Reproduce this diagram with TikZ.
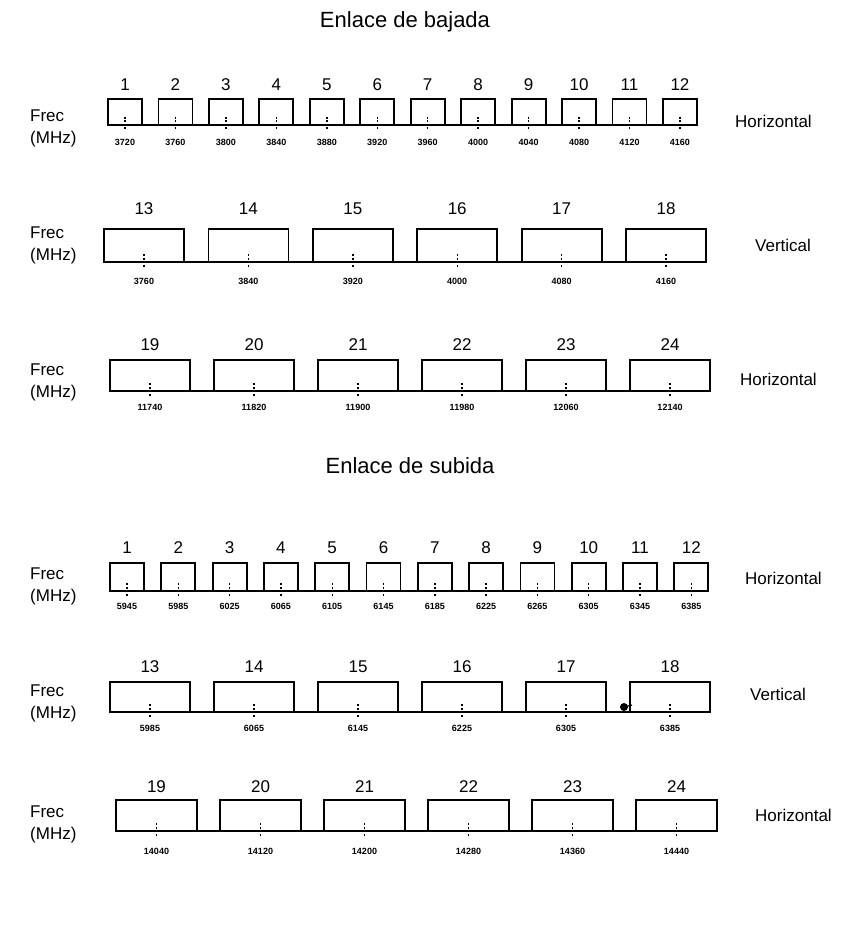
\documentclass[tikz,border=0pt]{standalone}
\usepackage{fontspec}
\setmainfont{Liberation Sans}
\usetikzlibrary{calc}
\tikzset{
  chbox/.style={draw, line width=1.8pt, inner sep=0pt, outer sep=0pt},
  baseln/.style={line width=1.8pt},
  tickln/.style={line width=1.4pt, dash pattern=on 2pt off 1.5pt},
  numlbl/.style={inner sep=0pt, font=\fontsize{17}{17}\selectfont},
  frqlbl/.style={inner sep=0pt, font=\bfseries\fontsize{9}{9}\selectfont},
  sidelbl/.style={inner sep=0pt, anchor=west, font=\fontsize{17}{17}\selectfont},
  titlelbl/.style={inner sep=0pt, font=\fontsize{22}{22}\selectfont},
  freclbl/.style={inner sep=0pt, anchor=west, align=left, font=\fontsize{17}{22}\selectfont}
}
% row parameters: first centre x, pitch, box width, number y, top y, bottom y, label y
\newcommand\RowSet[7]{\def\rX{#1}\def\rP{#2}\def\rW{#3}\def\rN{#4}\def\rT{#5}\def\rB{#6}\def\rL{#7}}
\newcommand\DrawRow[3]{%
  \foreach \nm/\fq [count=\i] in {#2} {
    \pgfmathsetmacro\cx{\rX+(\i-1)*\rP}
    \pgfmathsetmacro\cy{(\rT+\rB)/2}
    \pgfmathsetmacro\bh{\rB-\rT}
    \node[chbox, minimum width=\rW pt, minimum height=\bh pt] (#1\i) at (\cx,\cy) {};
    \node[numlbl] (#1n\i) at (\cx,\rN) {\nm};
    \node[frqlbl] (#1f\i) at (\cx,\rL) {\fq};
    \draw[tickln] (#1\i.south) ++(0,-8) -- ++(0,14);
  }
  \draw[baseln] (#11.south west) -- (#1#3.south east);
}
\begin{document}
\begin{tikzpicture}[x=1pt,y=-1pt]
\useasboundingbox (0,0) rectangle (841,931);

\node[titlelbl] (t1) at (405,22) {Enlace de bajada};

% Row A
\RowSet{125}{50.45}{34}{85}{99}{125}{142}
\DrawRow{A}{1/3720,2/3760,3/3800,4/3840,5/3880,6/3920,7/3960,8/4000,9/4040,10/4080,11/4120,12/4160}{12}
\node[freclbl] (fa) at (30,128) {Frec\\(MHz)};
\node[sidelbl] (sa) at (735,121) {Horizontal};

% Row B
\RowSet{144}{104.4}{80}{209}{229}{262}{281}
\DrawRow{B}{13/3760,14/3840,15/3920,16/4000,17/4080,18/4160}{6}
\node[freclbl] (fb) at (30,245) {Frec\\(MHz)};
\node[sidelbl] (sb) at (755,245) {Vertical};

% Row C
\RowSet{150}{104}{80}{345}{360}{391}{407}
\DrawRow{C}{19/11740,20/11820,21/11900,22/11980,23/12060,24/12140}{6}
\node[freclbl] (fc) at (30,382) {Frec\\(MHz)};
\node[sidelbl] (sc) at (740,379) {Horizontal};

\node[titlelbl] (t2) at (410,466) {Enlace de subida};

% Row D
\RowSet{127}{51.3}{34}{548}{563}{591}{606}
\DrawRow{D}{1/5945,2/5985,3/6025,4/6065,5/6105,6/6145,7/6185,8/6225,9/6265,10/6305,11/6345,12/6385}{12}
\node[freclbl] (fd) at (30,586) {Frec\\(MHz)};
\node[sidelbl] (sd) at (745,578) {Horizontal};

% Row E
\RowSet{150}{104}{80}{667}{682}{712}{728}
\DrawRow{E}{13/5985,14/6065,15/6145,16/6225,17/6305,18/6385}{6}
\node[freclbl] (fe) at (30,703) {Frec\\(MHz)};
\node[sidelbl] (se) at (750,694) {Vertical};
\fill ($(E6.west)+(-6,10)$) circle (4);
\draw[line width=1.2pt] ($(E6.west)+(-6,10)$) -- ($(E6.west)+(2,8)$);

% Row F
\RowSet{156.5}{104}{81}{787}{800}{831}{851}
\DrawRow{F}{19/14040,20/14120,21/14200,22/14280,23/14360,24/14440}{6}
\node[freclbl] (ff) at (30,824) {Frec\\(MHz)};
\node[sidelbl] (sf) at (755,815) {Horizontal};
\end{tikzpicture}
\end{document}
